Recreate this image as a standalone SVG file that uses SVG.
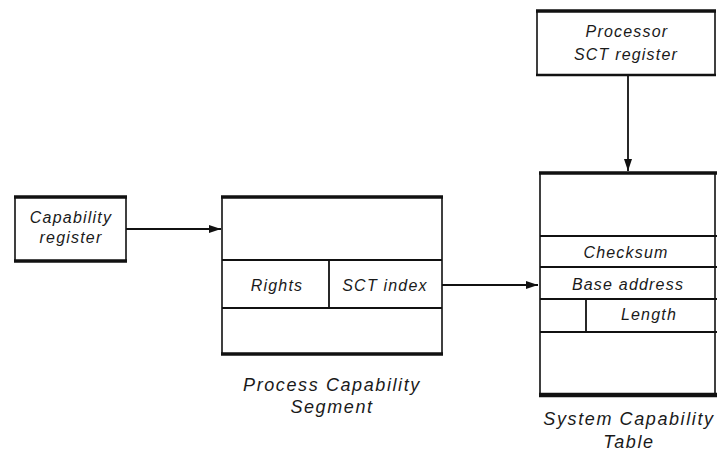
<svg xmlns="http://www.w3.org/2000/svg" width="717" height="452" viewBox="0 0 717 452">
  <style>
    .frame { fill: #fff; stroke: #111; stroke-width: 1.6; }
    .thick { stroke: #111; stroke-width: 3.5; fill: none; }
    .rule { stroke: #111; stroke-width: 1.8; fill: none; }
    .label { font-family: "Liberation Sans", Arial, sans-serif; font-style: italic; font-size: 16px; letter-spacing: 1.2px; fill: #1a1a1a; text-anchor: middle; }
    .caption { font-family: "Liberation Sans", Arial, sans-serif; font-style: italic; font-size: 18px; letter-spacing: 1.6px; fill: #1a1a1a; text-anchor: middle; }
    .conn { stroke: #111; stroke-width: 1.8; fill: none; }
  </style>
  <defs>
    <marker id="arrow" viewBox="0 0 12 8" refX="12" refY="4" markerWidth="12" markerHeight="8" markerUnits="userSpaceOnUse" orient="auto">
      <path d="M0,0 L12,4 L0,8 Z" fill="#111"/>
    </marker>
  </defs>
  <rect width="717" height="452" fill="#fff"/>

  <!-- capability register -->
  <g id="capability-register">
    <rect class="frame" x="15" y="197" width="111" height="64"/>
    <line class="thick" x1="14" y1="197" x2="127" y2="197"/>
    <line class="thick" x1="14" y1="261" x2="127" y2="261"/>
    <text class="label" x="71" y="223">Capability</text>
    <text class="label" x="71" y="243">register</text>
  </g>

  <!-- process capability segment -->
  <g id="process-capability-segment">
    <rect class="frame" x="222" y="197" width="220" height="157"/>
    <line class="thick" x1="221" y1="197" x2="443" y2="197"/>
    <line class="thick" x1="221" y1="354" x2="443" y2="354"/>
    <line class="rule" x1="222" y1="260" x2="442" y2="260"/>
    <line class="rule" x1="222" y1="308" x2="442" y2="308"/>
    <line class="rule" x1="329" y1="260" x2="329" y2="308"/>
    <text class="label" x="277" y="291">Rights</text>
    <text class="label" x="385" y="291">SCT index</text>
    <text class="caption" x="332" y="391">Process Capability</text>
    <text class="caption" x="332" y="413">Segment</text>
  </g>

  <!-- processor SCT register -->
  <g id="processor-sct-register">
    <rect class="frame" x="537" y="11" width="178" height="64"/>
    <line class="thick" x1="536" y1="11" x2="716" y2="11"/>
    <line class="rule" x1="536" y1="75" x2="716" y2="75" style="stroke-width:2.4"/>
    <text class="label" x="627" y="37">Processor</text>
    <text class="label" x="626" y="60">SCT register</text>
  </g>

  <!-- system capability table -->
  <g id="system-capability-table">
    <rect class="frame" x="540" y="173" width="175" height="222"/>
    <line class="thick" x1="539" y1="173" x2="717" y2="173"/>
    <line class="thick" x1="539" y1="395" x2="717" y2="395" style="stroke-width:4.5"/>
    <line class="rule" x1="540" y1="236" x2="717" y2="236"/>
    <line class="rule" x1="540" y1="267" x2="717" y2="267"/>
    <line class="rule" x1="540" y1="299" x2="717" y2="299"/>
    <line class="rule" x1="540" y1="332" x2="717" y2="332"/>
    <line class="rule" x1="586" y1="299" x2="586" y2="332"/>
    <text class="label" x="626" y="258">Checksum</text>
    <text class="label" x="628" y="290">Base address</text>
    <text class="label" x="649" y="320">Length</text>
    <text class="caption" x="629" y="425">System Capability</text>
    <text class="caption" x="629" y="448">Table</text>
  </g>

  <!-- connectors -->
  <g id="connectors">
    <line class="conn" x1="126" y1="229" x2="221" y2="229" marker-end="url(#arrow)"/>
    <line class="conn" x1="442" y1="285" x2="538" y2="285" marker-end="url(#arrow)"/>
    <line class="conn" x1="628" y1="76" x2="628" y2="171" marker-end="url(#arrow)"/>
  </g>
</svg>
